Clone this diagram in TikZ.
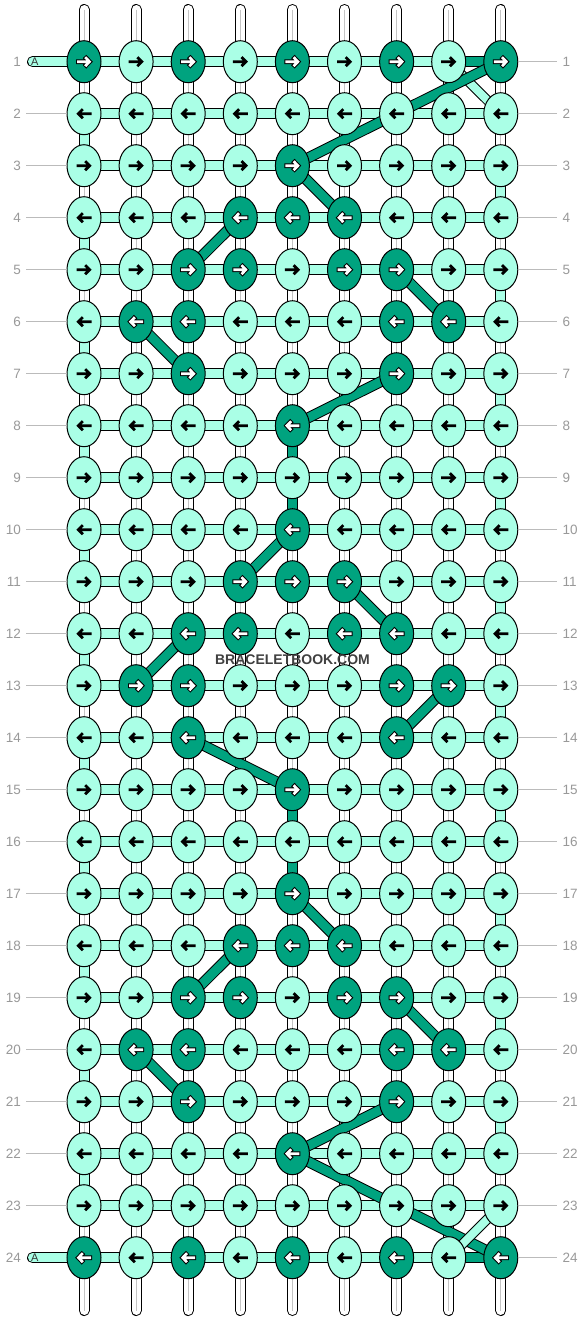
\documentclass[tikz,border=0pt]{standalone}
\usepackage{fontspec}
\setmainfont{Liberation Sans}
\usetikzlibrary{shapes.geometric}
\pgfdeclarelayer{bg}
\pgfsetlayers{bg,main}
\definecolor{lite}{HTML}{AAFFE6}
\definecolor{drk}{HTML}{00A37F}
\definecolor{numgray}{HTML}{999999}
\definecolor{rulegray}{HTML}{BBBBBB}
\definecolor{midgray}{HTML}{C4C4C4}
\definecolor{wmark}{HTML}{404040}
\tikzset{
  knot/.style={ellipse, draw=black, line width=1pt, minimum width=34pt, minimum height=42pt, inner sep=0pt, outer sep=0pt},
  knotL/.style={knot, fill=lite},
  knotD/.style={knot, fill=drk},
  wstrand/.style={draw=black, line width=1pt, double=white, double distance=9pt},
  astrand/.style={draw=black, line width=1pt, double=lite, double distance=9pt},
  adiag/.style={draw=black, line width=1pt, double=lite, double distance=8pt},
  dstrand/.style={draw=black, line width=1pt, double=drk, double distance=9pt},
  midline/.style={draw=midgray, line width=1pt},
  rownum/.style={font=\fontsize{13.5}{13.5}\selectfont, text=numgray, inner sep=0pt},
  rowrule/.style={draw=rulegray, line width=1pt},
}
\newcommand\drawArrB{\draw[black, line width=2.8pt] (-7.5,0) -- (5,0) (1.2,-4.5) -- (5.7,0) -- (1.2,4.5);}
\newcommand\drawArrW{\draw[black, line width=4.8pt] (-8,0) -- (4.5,0) (0.5,-5.2) -- (5.5,0) -- (0.5,5.2);
  \draw[white, line width=2.7pt] (-7,0) -- (4.5,0) (1.2,-4.5) -- (5.5,0) -- (1.2,4.5);}
\begin{document}
\begin{tikzpicture}[x=1pt,y=-1pt]
\useasboundingbox (0,0) rectangle (584,1320);
% knots and arrows
\foreach \r/\pat in {
  1/{1,0,1,0,1,0,1,0,1}, 2/{0,0,0,0,0,0,0,0,0}, 3/{0,0,0,0,1,0,0,0,0},
  4/{0,0,0,1,1,1,0,0,0}, 5/{0,0,1,1,0,1,1,0,0}, 6/{0,1,1,0,0,0,1,1,0},
  7/{0,0,1,0,0,0,1,0,0}, 8/{0,0,0,0,1,0,0,0,0}, 9/{0,0,0,0,0,0,0,0,0},
  10/{0,0,0,0,1,0,0,0,0}, 11/{0,0,0,1,1,1,0,0,0}, 12/{0,0,1,1,0,1,1,0,0},
  13/{0,1,1,0,0,0,1,1,0}, 14/{0,0,1,0,0,0,1,0,0}, 15/{0,0,0,0,1,0,0,0,0},
  16/{0,0,0,0,0,0,0,0,0}, 17/{0,0,0,0,1,0,0,0,0}, 18/{0,0,0,1,1,1,0,0,0},
  19/{0,0,1,1,0,1,1,0,0}, 20/{0,1,1,0,0,0,1,1,0}, 21/{0,0,1,0,0,0,1,0,0},
  22/{0,0,0,0,1,0,0,0,0}, 23/{0,0,0,0,0,0,0,0,0}, 24/{1,0,1,0,1,0,1,0,1}}{
  \foreach \d [count=\c] in \pat {
    \ifodd\r\relax \def\sx{1}\else \def\sx{-1}\fi
    \ifnum\d=1\relax
      \node[knotD] (k-\r-\c) at ({84+52.1*(\c-1)},{61.7+52*(\r-1)}) {};
      \begin{scope}[shift={(k-\r-\c.center)}, xscale=\sx]\drawArrW\end{scope}
    \else
      \node[knotL] (k-\r-\c) at ({84+52.1*(\c-1)},{61.7+52*(\r-1)}) {};
      \begin{scope}[shift={(k-\r-\c.center)}, xscale=\sx]\drawArrB\end{scope}
    \fi
  }
}
\begin{pgfonlayer}{bg}
  \fill[white] (0,0) rectangle (584,1320);
  % vertical base strands
  \foreach \c in {1,...,9}{
    \coordinate (top-\c) at ({84+52.1*(\c-1)},9.5);
    \coordinate (bot-\c) at ({84+52.1*(\c-1)},1310.5);
    \draw[wstrand, line cap=round] (top-\c) -- (k-1-\c.center);
    \draw[wstrand, line cap=round] (k-24-\c.center) -- (bot-\c);
    \draw[midline] (top-\c) -- (k-1-\c.center);
    \draw[midline] (k-24-\c.center) -- (bot-\c);
    \foreach \r [evaluate=\r as \rn using int(\r+1)] in {1,...,23}{
      \draw[wstrand] (k-\r-\c.center) -- (k-\rn-\c.center);
      \draw[midline] (k-\r-\c.center) -- (k-\rn-\c.center);
    }
  }
  % turning links of the background string
  \foreach \r [evaluate=\r as \rn using int(\r+1)] in {2,4,...,22}{
    \draw[astrand] (k-\r-1.center) -- (k-\rn-1.center);
  }
  \foreach \r [evaluate=\r as \rn using int(\r+1)] in {3,5,...,21}{
    \draw[astrand] (k-\r-9.center) -- (k-\rn-9.center);
  }
  % dark vertical links
  \draw[dstrand] (k-8-5.center) -- (k-10-5.center);
  \draw[dstrand] (k-15-5.center) -- (k-17-5.center);
  % horizontal bars
  \foreach \r in {1,...,24}{
    \foreach \c [evaluate=\c as \cn using int(\c+1)] in {1,...,8}{
      \draw[astrand] (k-\r-\c.center) -- (k-\r-\cn.center);
    }
  }
  \coordinate (tailA1) at (32.5,61.7);
  \coordinate (tailA24) at (32.5,1257.7);
  \draw[astrand, line cap=round] (tailA1) -- (k-1-1.center);
  \draw[astrand, line cap=round] (tailA24) -- (k-24-1.center);
  \draw[dstrand] (k-1-8.center) -- (k-1-9.center);
  \draw[dstrand] (k-24-8.center) -- (k-24-9.center);
  % light diagonal at top
  \draw[adiag] (k-1-8.center) -- (k-2-9.center);
  % dark string bands
  \foreach \ra/\ca/\rb/\cb in {1/9/3/5, 3/5/4/6, 4/4/5/3, 5/7/6/8, 6/2/7/3, 7/7/8/5,
      10/5/11/4, 11/6/12/7, 12/3/13/2, 13/8/14/7, 14/3/15/5,
      17/5/18/6, 18/4/19/3, 19/7/20/8, 20/2/21/3, 21/7/22/5, 22/5/24/9}{
    \draw[dstrand] (k-\ra-\ca.center) -- (k-\rb-\cb.center);
  }
  % light diagonal at bottom
  \draw[adiag] (k-23-9.center) -- (k-24-8.center);
\end{pgfonlayer}
% row numbers and rules
\foreach \r in {1,...,24}{
  \node[rownum, anchor=east] (ln-\r) at (21,{61.7+52*(\r-1)}) {\r};
  \node[rownum, anchor=west] (rn-\r) at (562.5,{61.7+52*(\r-1)}) {\r};
  \draw[rowrule] (k-\r-9.east) -- ([xshift=-5.5pt]rn-\r.west);
}
\foreach \r in {2,...,23}{
  \draw[rowrule] ([xshift=5pt]ln-\r.east) -- (k-\r-1.west);
}
\node[font=\fontsize{11}{11}\selectfont, text=black!80, inner sep=0pt] (tagA1) at (34.7,61.7) {A};
\node[font=\fontsize{11}{11}\selectfont, text=black!80, inner sep=0pt] (tagA24) at (34.7,1257.7) {A};
\node[font=\bfseries\fontsize{14}{14}\selectfont, text=wmark, inner sep=0pt] (wm) at (292.5,659.5) {BRACELETBOOK.COM};
\end{tikzpicture}
\end{document}
